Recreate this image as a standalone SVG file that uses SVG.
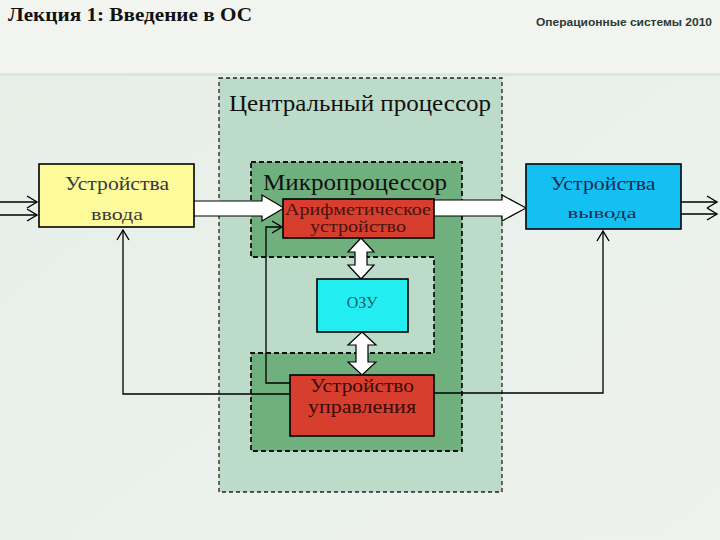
<svg xmlns="http://www.w3.org/2000/svg" width="720" height="540" viewBox="0 0 720 540">
<defs>
<linearGradient id="bg" x1="0" y1="0" x2="1" y2="1">
<stop offset="0" stop-color="#e6efe7"/>
<stop offset="1" stop-color="#eef2ee"/>
</linearGradient>
<marker id="chev" markerUnits="userSpaceOnUse" viewBox="-11 -7 13 14" markerWidth="13" markerHeight="14" refX="0" refY="0" orient="auto">
<path d="M-10,-6 L0,0 L-10,6" fill="none" stroke="#000" stroke-width="1.4"/>
</marker>
<style>
.serif{font-family:"Liberation Serif","DejaVu Serif",serif}
.box{stroke:#000;stroke-width:1.6}
.thin{fill:none;stroke:#000;stroke-width:1.3}
.block{fill:#fff;stroke:#000;stroke-width:1.2;stroke-linejoin:miter}
</style>
</defs>
<rect x="0" y="0" width="720" height="540" fill="url(#bg)"/>
<rect x="0" y="0" width="720" height="73" fill="#f2f4f0"/>
<rect x="0" y="73" width="720" height="3" fill="#dbe6de"/>
<text x="8" y="21" font-family="Liberation Serif, DejaVu Serif, serif" font-weight="bold" font-size="19" fill="#111" textLength="244" lengthAdjust="spacingAndGlyphs">Лекция 1: Введение в ОС</text>
<text x="536" y="26" font-family="Liberation Sans, Arial, sans-serif" font-weight="bold" font-size="11.5" fill="#2a3a34" textLength="176" lengthAdjust="spacingAndGlyphs">Операционные системы 2010</text>

<g id="cpu">
<rect x="219" y="78" width="283" height="414" fill="#bcdbc9" stroke="#222" stroke-width="1.3" stroke-dasharray="4,3"/>
<text class="serif" x="360" y="111" font-size="24" text-anchor="middle" fill="#111" textLength="262" lengthAdjust="spacingAndGlyphs">Центральный процессор</text>
</g>
<g id="microprocessor">
<path d="M251,162 H462 V451 H251 V353 H434 V257 H251 Z" fill="#70b07e" stroke="#111" stroke-width="1.8" stroke-dasharray="5,3"/>
<text class="serif" x="355" y="190" font-size="24" text-anchor="middle" fill="#111" textLength="184" lengthAdjust="spacingAndGlyphs">Микропроцессор</text>
</g>

<g id="connectors">
<path class="thin" d="M0,202 H37" marker-end="url(#chev)"/>
<path class="thin" d="M0,215 H37" marker-end="url(#chev)"/>
<path class="thin" d="M681,202 H717" marker-end="url(#chev)"/>
<path class="thin" d="M681,214 H717" marker-end="url(#chev)"/>
<path class="block" d="M190,201 H262 V195 L284,208 L262,221 V216 H190 Z"/>
<path class="block" d="M430,200 H502 V195 L526,208 L502,221 V216 H430 Z"/>
<path class="block" d="M361,238 L374,252 H367 V265 H374 L361,279 L348,265 H355 V252 H348 Z"/>
<path class="block" d="M362,332 L376,345 H368 V362 H376 L362,375 L348,362 H356 V345 H348 Z"/>
<path class="thin" d="M291,383 H266 V227 H282" marker-end="url(#chev)"/>
<path class="thin" d="M291,394 H123 V230" marker-end="url(#chev)"/>
<path class="thin" d="M433,393 H603 V231" marker-end="url(#chev)"/>
</g>

<g id="input">
<rect class="box" x="39" y="164" width="155" height="63" fill="#fdfa9c"/>
<text class="serif" x="117" y="190" font-size="19" text-anchor="middle" fill="#3a3a3a" textLength="104" lengthAdjust="spacingAndGlyphs">Устройства</text>
<text class="serif" x="117" y="220" font-size="17" text-anchor="middle" fill="#3a3a3a" textLength="52" lengthAdjust="spacingAndGlyphs">ввода</text>
</g>
<g id="output">
<rect class="box" x="526" y="164" width="155" height="65" fill="#14c0f2"/>
<text class="serif" x="603" y="190" font-size="19" text-anchor="middle" fill="#1c2b55" textLength="105" lengthAdjust="spacingAndGlyphs">Устройства</text>
<text class="serif" x="602" y="218" font-size="15" text-anchor="middle" fill="#1c2b55" textLength="69" lengthAdjust="spacingAndGlyphs">вывода</text>
</g>
<g id="alu">
<rect class="box" x="283" y="199" width="151" height="39" fill="#d83e2e"/>
<text class="serif" x="358" y="215" font-size="16" text-anchor="middle" fill="#4a1410" textLength="146" lengthAdjust="spacingAndGlyphs">Арифметическое</text>
<text class="serif" x="358" y="232" font-size="16" text-anchor="middle" fill="#4a1410" textLength="96" lengthAdjust="spacingAndGlyphs">устройство</text>
</g>
<g id="ram">
<rect class="box" x="317" y="279" width="91" height="53" fill="#22eef2"/>
<text class="serif" x="362" y="308" font-size="16" text-anchor="middle" fill="#1a6070">ОЗУ</text>
</g>
<g id="control">
<rect class="box" x="290" y="375" width="144" height="61" fill="#d83e2e"/>
<text class="serif" x="362" y="392" font-size="19" text-anchor="middle" fill="#3a0c0a" textLength="104" lengthAdjust="spacingAndGlyphs">Устройство</text>
<text class="serif" x="362" y="413" font-size="19" text-anchor="middle" fill="#3a0c0a" textLength="108" lengthAdjust="spacingAndGlyphs">управления</text>
</g>
</svg>
